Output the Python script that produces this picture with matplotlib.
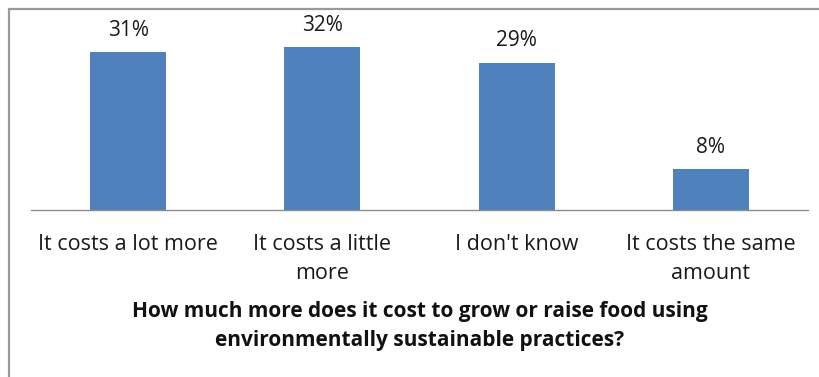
import matplotlib
matplotlib.use("Agg")
import matplotlib.pyplot as plt
from matplotlib.patches import Rectangle

categories = ["It costs a lot more", "It costs a little\nmore", "I don't know", "It costs the same\namount"]
values = [31, 32, 29, 8]
value_labels = ["31%", "32%", "29%", "8%"]
title = "How much more does it cost to grow or raise food using\nenvironmentally sustainable practices?"

W, H = 820, 377
fig = plt.figure(figsize=(W / 100, H / 100), dpi=100)
fig.patch.set_facecolor("white")

# outer chart frame (extends past right and bottom edges)
fig.patches.append(Rectangle((9.5 / W, -0.1), 2, 1 - 9.5 / H + 0.1,
                             transform=fig.transFigure, fill=False,
                             edgecolor="#9a9a9a", linewidth=1.6))

ax = fig.add_axes([31 / W, 1 - 210 / H, (808 - 31) / W, (210 - 32) / H])
x = list(range(len(categories)))
ax.bar(x, values, width=0.39, color="#4F81BD")
ax.set_xlim(-0.5, len(categories) - 0.5)
ax.set_ylim(0, 35)
for s in ["top", "right", "left"]:
    ax.spines[s].set_visible(False)
ax.spines["bottom"].set_color("#8c8c8c")
ax.spines["bottom"].set_linewidth(1.0)
ax.set_yticks([])
ax.set_xticks(x)
ax.set_xticklabels(categories, fontsize=15.5, family="Open Sans", color="#1a1a1a",
                   linespacing=1.5, va="top")
ax.tick_params(axis="x", length=0, pad=17)

for xi, v, lab in zip(x, values, value_labels):
    ax.annotate(lab, (xi, v), xytext=(0, 16), textcoords="offset points",
                ha="center", va="center", fontsize=15, family="Open Sans", color="#1a1a1a")

fig.text(420 / W, 1 - 326 / H, title, ha="center", va="center", fontsize=15,
         fontweight="bold", family="Open Sans", color="#111111", linespacing=1.55)

fig.savefig("out.png", dpi=100)
